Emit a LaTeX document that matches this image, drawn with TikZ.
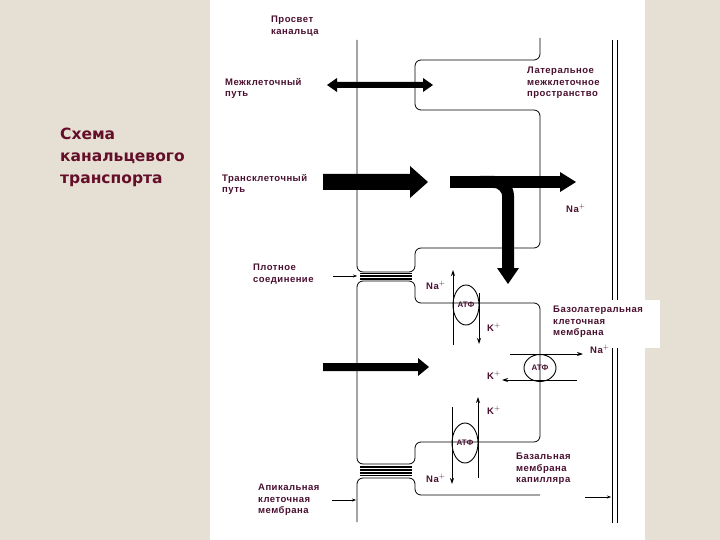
\documentclass[tikz,border=0pt]{standalone}
\usepackage{fontspec}
\setmainfont{Liberation Sans}
\newfontfamily\lbl[LetterSpace=5]{Liberation Sans}
\newfontfamily\ttl{DejaVu Sans}
\usetikzlibrary{arrows.meta,shapes.geometric}
\definecolor{tx}{HTML}{4A1030}
\definecolor{bg}{HTML}{E6E0D4}
\tikzset{
 lab/.style={font=\lbl\bfseries\fontsize{9.5}{11.5}\selectfont, text=tx, align=left, inner sep=0pt, anchor=north west},
 mem/.style={line width=0.8pt, rounded corners=6pt},
 thin/.style={line width=0.9pt, -{Stealth[length=6pt,width=4pt]}},
 pump/.style={draw, ellipse, line width=0.9pt, font=\bfseries\fontsize{8}{9}\selectfont, text=tx, inner sep=0pt},
}
\begin{document}
\begin{tikzpicture}[x=1pt,y=-1pt]
\fill[bg] (0,0) rectangle (720,540);
\useasboundingbox (0,0) rectangle (720,540);
\fill[white] (210,0) rectangle (645,540);
% title
\node[font=\ttl\bfseries\fontsize{15.5}{22}\selectfont, text=tx!85!red, align=left, anchor=north west, inner sep=0pt] (title) at (60,128) {Схема\\канальцевого\\транспорта};
% membranes
\draw[mem] (357,40) -- (357,272) -- (415,272) -- (415,248) -- (540,248) -- (540,110) -- (415,110) -- (415,60) -- (540,60) -- (540,38);
\draw[mem] (357,281) -- (415,281) -- (415,303) -- (540,303) -- (540,442) -- (415,442) -- (415,464) -- (357,464) -- cycle;
\draw[mem] (357,522) -- (357,478) -- (415,478) -- (415,495) -- (540,495);
\foreach \y in {273.5,275,276.5,278,279.5} \draw[line width=0.5pt] (360,\y) -- (412,\y);
\foreach \y in {466,467.5,469,470.5,472,473.5,475} \draw[line width=0.5pt] (360,\y) -- (412,\y);
\draw[line width=0.9pt] (612,40) -- (612,523);
\draw[line width=0.9pt] (617,40) -- (617,523);
\fill[white] (548,300) rectangle (660,348);
% big arrows
\fill (327,85) -- (337,78) -- (337,82) -- (423,82) -- (423,78) -- (433,85) -- (423,92) -- (423,88) -- (337,88) -- (337,92) -- cycle;
\fill (323,174) -- (410,174) -- (410,166) -- (428,182) -- (410,198) -- (410,190) -- (323,190) -- cycle;
\draw[line width=12pt] (450,182) -- (562,182);
\fill (560,172) -- (576,182) -- (560,192) -- cycle;
\draw[line width=12pt, rounded corners=14pt] (480,182) -- (508,182) -- (508,270);
\fill (497,268) -- (508,284) -- (519,268) -- cycle;
\fill (323,363) -- (418,363) -- (418,358) -- (429,367) -- (418,376) -- (418,371) -- (323,371) -- cycle;
% pumps
\node[pump, minimum width=26pt, minimum height=40pt] (p1) at (466,305) {АТФ};
\draw[thin] (453,345) -- (453,270);
\draw[thin] (479,293) -- (479,344);
\node[pump, minimum width=32pt, minimum height=27pt] (p2) at (540,368) {АТФ};
\draw[thin] (510,354) -- (583,354);
\draw[thin] (577,380) -- (502,380);
\node[pump, minimum width=26pt, minimum height=40pt] (p3) at (465,443) {АТФ};
\draw[thin] (478,478) -- (478,397);
\draw[thin] (452,407) -- (452,484);
% labels
\node[lab] (l1) at (271,16) {Просвет\\канальца};
\node[lab] (l2) at (225,78) {Межклеточный\\путь};
\node[lab] (l3) at (527,67) {Латеральное\\межклеточное\\пространство};
\node[lab] (l4) at (222,174) {Трансклеточный\\путь};
\node[lab] (na1) at (566,204) {Na$^{+}$};
\node[lab] (l5) at (253,264) {Плотное\\соединение};
\draw[line width=0.5pt, -{Stealth[length=4pt,width=3pt]}] (333,276) -- (357,276);
\node[lab] (na2) at (426,281) {Na$^{+}$};
\node[lab] (k1) at (487,323) {K$^{+}$};
\node[lab] (l6) at (553,306) {Базолатеральная\\клеточная\\мембрана};
\node[lab] (na3) at (590,345) {Na$^{+}$};
\node[lab] (k2) at (487,371) {K$^{+}$};
\node[lab] (k3) at (487,406) {K$^{+}$};
\node[lab] (na4) at (426,474) {Na$^{+}$};
\node[lab] (l7) at (516,453) {Базальная\\мембрана\\капилляра};
\draw[line width=0.5pt, -{Stealth[length=4pt,width=3pt]}] (585,497) -- (611,497);
\node[lab] (l8) at (258,484) {Апикальная\\клеточная\\мембрана};
\draw[line width=0.5pt, -{Stealth[length=4pt,width=3pt]}] (332,500) -- (356,500);
\end{tikzpicture}
\end{document}
